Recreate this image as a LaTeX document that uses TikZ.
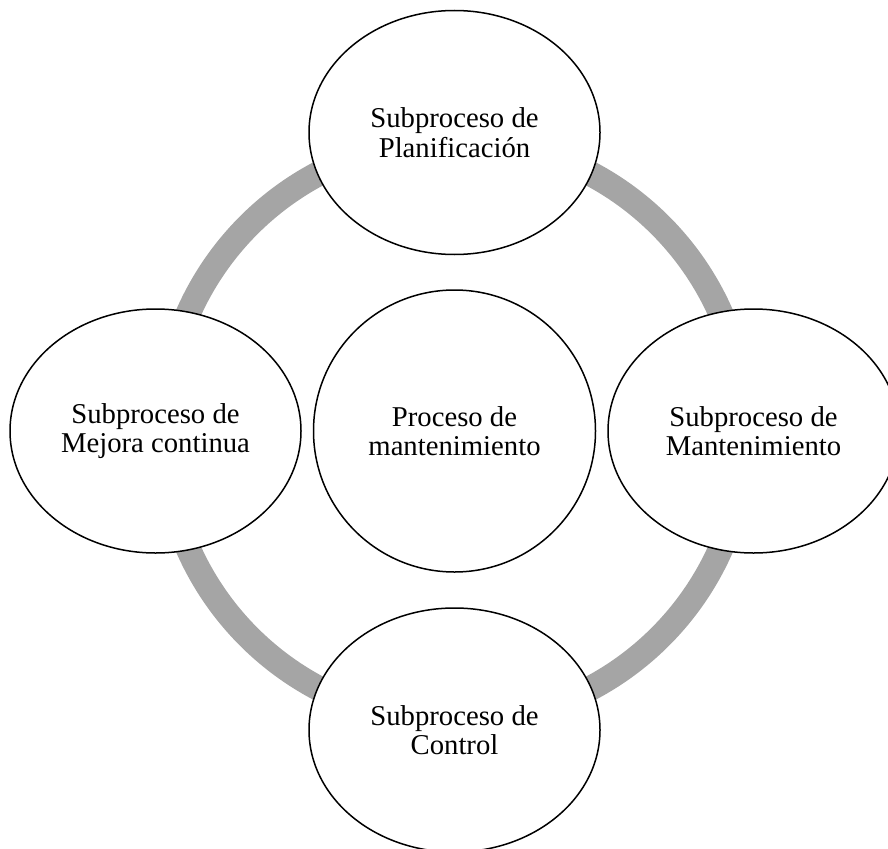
\documentclass[tikz,border=0pt]{standalone}
\usepackage{fontspec}
\setmainfont{Liberation Serif}
\usetikzlibrary{shapes.geometric}
\definecolor{ringgray}{RGB}{165,165,165}
\begin{document}
\begin{tikzpicture}[x=1pt,y=-1pt,
  phase/.style={draw=black, line width=1.5pt, fill=white, ellipse,
    minimum width=291pt, minimum height=244pt, inner sep=0pt,
    align=center, font=\fontsize{28.7}{29.5}\selectfont},
  core/.style={phase, circle, minimum size=282pt},
  cycle/.style={draw=ringgray, line width=25pt}]
\useasboundingbox (0,0) rectangle (888,848);
\clip (0,0) rectangle (888,848);

% the cycle ring behind the phases
\coordinate (hub) at (454.5,431);
\draw[cycle] (hub) circle[radius=291];

% central process
\node[core] (proc) at (hub) {Proceso de\\mantenimiento};

% the four subprocesses around it
\node[phase] (plan) at (454.5,132.5) {Subproceso de\\Planificación};
\node[phase] (mant) at (753.5,431) {Subproceso de\\Mantenimiento};
\node[phase] (ctrl) at (454.5,730) {Subproceso de\\Control};
\node[phase] (mejo) at (155.5,431) {Subproceso de\\Mejora continua};
\end{tikzpicture}
\end{document}
